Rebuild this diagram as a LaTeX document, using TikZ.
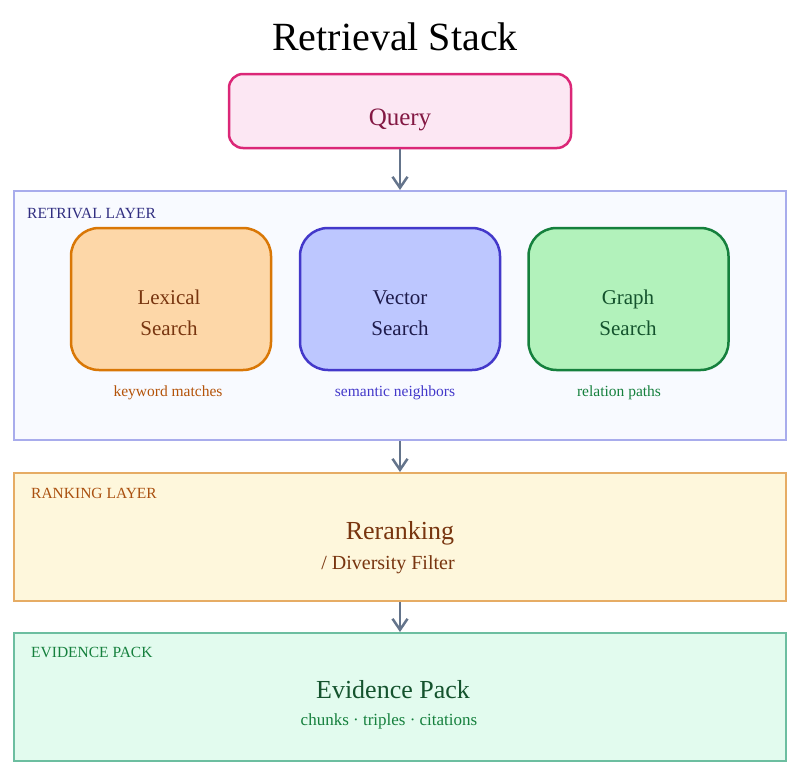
\documentclass[tikz,border=0pt]{standalone}
\usepackage{fontspec}
\setmainfont{Liberation Serif}
\usetikzlibrary{arrows.meta}
\definecolor{queryfill}{RGB}{252,231,243}
\definecolor{querydraw}{RGB}{219,39,119}
\definecolor{querytext}{RGB}{131,24,67}
\definecolor{retrievalfill}{RGB}{248,250,255}
\definecolor{retrievaldraw}{RGB}{168,172,236}
\definecolor{retrievaltext}{RGB}{49,46,129}
\definecolor{lexicalfill}{RGB}{253,215,168}
\definecolor{lexicaldraw}{RGB}{217,119,6}
\definecolor{lexicaltext}{RGB}{120,53,15}
\definecolor{lexicalnote}{RGB}{180,83,9}
\definecolor{vectorfill}{RGB}{189,199,255}
\definecolor{vectordraw}{RGB}{67,56,202}
\definecolor{vectortext}{RGB}{30,27,75}
\definecolor{graphfill}{RGB}{178,242,187}
\definecolor{graphdraw}{RGB}{21,128,61}
\definecolor{graphtext}{RGB}{20,83,45}
\definecolor{rankfill}{RGB}{254,247,220}
\definecolor{rankdraw}{RGB}{230,172,100}
\definecolor{ranktext}{RGB}{120,53,15}
\definecolor{ranklabel}{RGB}{170,80,15}
\definecolor{evidencefill}{RGB}{226,251,238}
\definecolor{evidencedraw}{RGB}{108,190,160}
\definecolor{evidencetext}{RGB}{20,83,45}
\definecolor{evidencelabel}{RGB}{21,128,61}
\definecolor{flowline}{RGB}{100,116,139}

\newcommand{\fsz}[1]{\fontsize{#1}{#1}\selectfont}

\begin{document}
\begin{tikzpicture}[x=1pt,y=-1pt]

\tikzset{
  layer box/.style={
    draw=#1draw,
    fill=#1fill,
    line width=2pt,
    minimum width=772pt,
    inner sep=0pt
  },
  layer tag/.style={
    anchor=west,
    inner sep=0pt,
    font=\fsz{15.5}
  },
  search box/.style={
    draw=#1draw,
    fill=#1fill,
    line width=2.5pt,
    rounded corners=28pt,
    minimum width=200pt,
    minimum height=142pt
  },
  search text/.style={
    text=#1text,
    align=center,
    font=\fontsize{21}{31}\selectfont
  },
  search note/.style={
    inner sep=0pt,
    font=\fsz{15.5}
  },
  flow/.style={
    draw=flowline,
    line width=2.5pt,
    -{Straight Barb[length=11pt,width=15pt,line width=2.5pt]}
  }
}

\useasboundingbox (0,0) rectangle (800,776);

% Title.
\node[font=\fsz{40}] (title) at (395,37) {Retrieval Stack};

% Query.
\node[draw=querydraw, fill=queryfill, line width=2.5pt,
      rounded corners=14pt, minimum width=342pt, minimum height=74pt]
      (query) at (400,111) {};
\node[text=querytext, font=\fsz{25}] (querytext) at (400,120) {Query};

% Retrieval layer with its three searches.
\node[layer box=retrieval, minimum height=249pt] (retrieval) at (400,315.5) {};
\node[layer tag, text=retrievaltext] (retrievaltag) at (27,213) {RETRIVAL LAYER};

\node[search box=lexical] (lexical) at (171,299) {};
\node[search box=vector] (vector) at (400,299) {};
\node[search box=graph] (graph) at (628.5,299) {};
\node[search text=lexical] (lexicaltext) at (169,313) {Lexical\\Search};
\node[search text=vector] (vectortext) at (400,313) {Vector\\Search};
\node[search text=graph] (graphtext) at (628,313) {Graph\\Search};

\node[search note, text=lexicalnote] (lexicalnote) at (168,393) {keyword matches};
\node[search note, text=vectordraw] (vectornote) at (395,393) {semantic neighbors};
\node[search note, text=graphdraw] (graphnote) at (619,393) {relation paths};

% Ranking layer.
\node[layer box=rank, minimum height=128pt] (ranking) at (400,537) {};
\node[layer tag, text=ranklabel] (rankingtag) at (31,493) {RANKING LAYER};
\node[text=ranktext, font=\fsz{26}] (reranking) at (400,533) {Reranking};
\node[text=ranktext, font=\fsz{20}] (diversity) at (388,565) {/ Diversity Filter};

% Evidence pack.
\node[layer box=evidence, minimum height=128pt] (evidence) at (400,697) {};
\node[layer tag, text=evidencelabel] (evidencetag) at (31,652) {EVIDENCE PACK};
\node[text=evidencetext, font=\fsz{26}] (pack) at (393,690) {Evidence Pack};
\node[text=evidencelabel, font=\fsz{17}] (contents) at (389,721) {chunks · triples · citations};

% Flow between the stages.
\draw[flow] (query) -- (retrieval);
\draw[flow] (retrieval) -- (ranking);
\draw[flow] (ranking) -- (evidence);

\end{tikzpicture}
\end{document}
